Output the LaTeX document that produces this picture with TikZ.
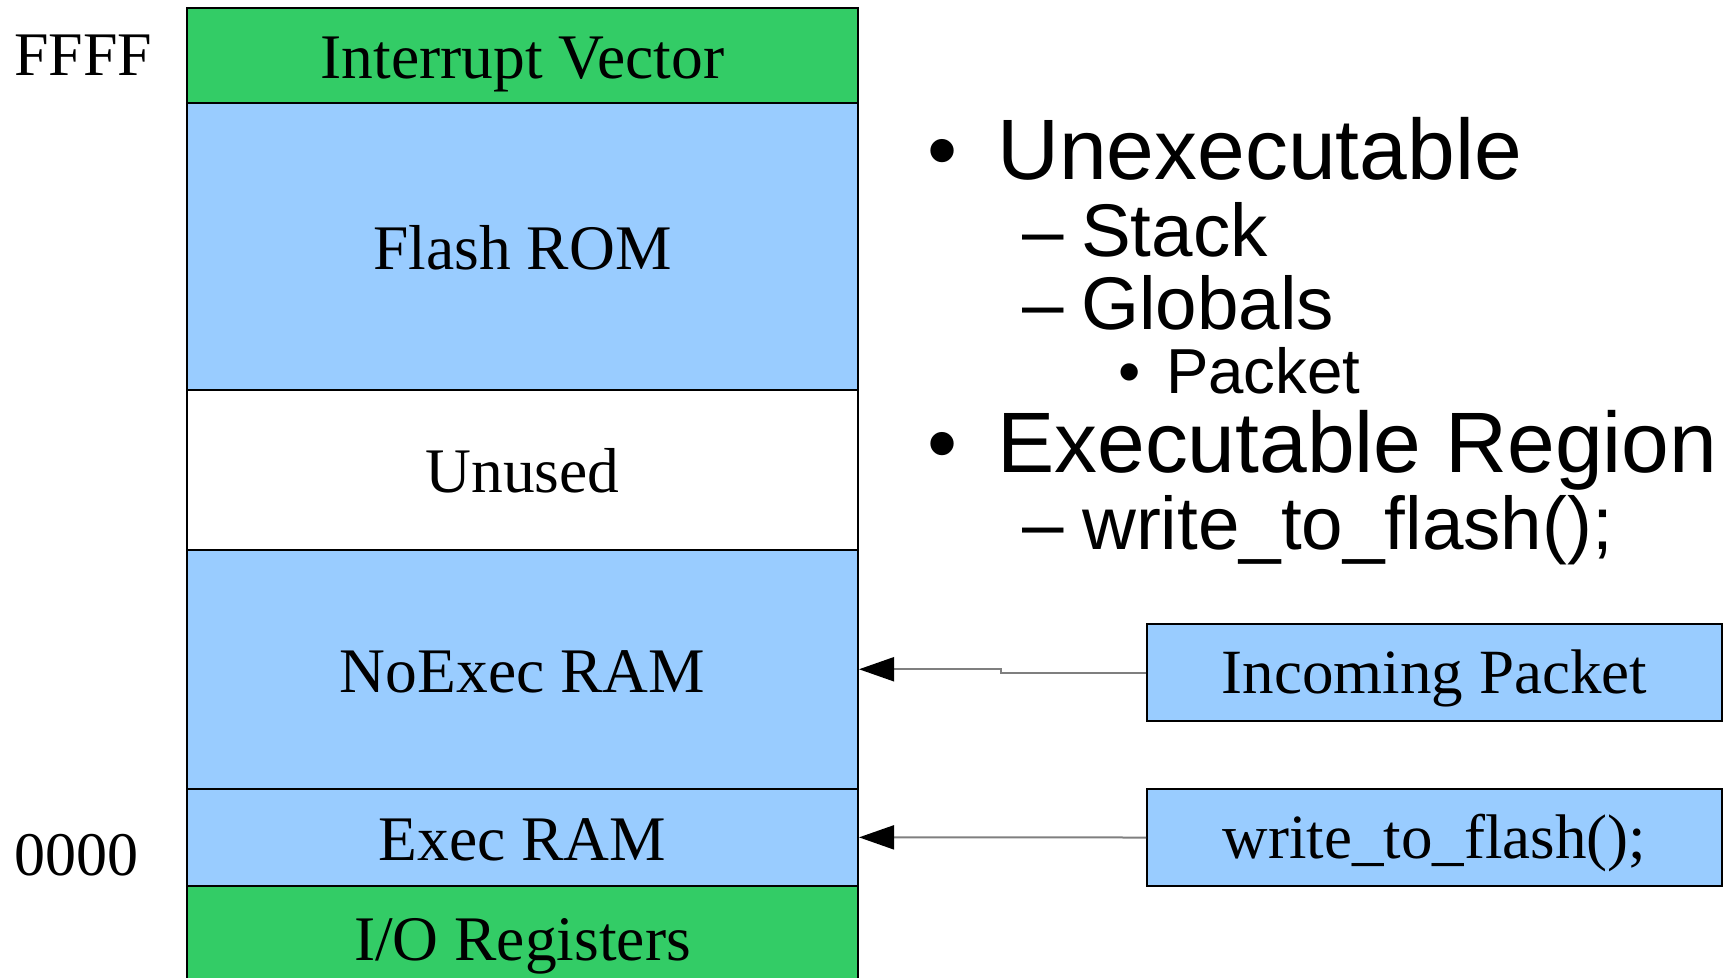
\documentclass[tikz,border=0pt]{standalone}
\usepackage{fontspec}
\setmainfont{Liberation Serif}
\newfontfamily\sansfam{Liberation Sans}
\usetikzlibrary{arrows.meta}
\definecolor{memgreen}{HTML}{33CC66}
\definecolor{memblue}{HTML}{99CCFF}
\definecolor{wiregray}{HTML}{7F7F7F}

\begin{document}
\begin{tikzpicture}[x=1pt,y=-1pt,
  region/.style={draw=black, line width=2pt, minimum width=671pt, inner sep=0pt,
    font=\fontsize{63.5}{63.5}\selectfont, text height=46pt, text depth=0pt},
  srcbox/.style={draw=black, line width=2pt, fill=memblue, minimum width=575pt,
    minimum height=97pt, inner sep=0pt,
    font=\fontsize{63}{63}\selectfont, text height=41pt, text depth=0pt},
  addr/.style={anchor=west, inner sep=0pt, font=\fontsize{62}{62}\selectfont,
    text height=41pt, text depth=0pt},
  conn/.style={draw=wiregray, line width=2pt, -{Triangle[length=35pt,width=24pt,color=black]}},
  lvlone/.style={anchor=base west, inner sep=0pt, font=\sansfam\fontsize{85.8}{85.8}\selectfont},
  lvltwo/.style={anchor=base west, inner sep=0pt, font=\sansfam\fontsize{74.6}{74.6}\selectfont},
  lvlthree/.style={anchor=base west, inner sep=0pt, font=\sansfam\fontsize{63.6}{63.6}\selectfont},
  dot/.style={anchor=base, inner sep=0pt},
]
\useasboundingbox (0,0) rectangle (1723,977);
\clip (0,0) rectangle (1723,977);

% memory map column
\node[region, fill=memgreen, minimum height=95.6pt] (iv)     at (522.5,55.5)   {Interrupt Vector};
\node[region, fill=memblue,  minimum height=286.7pt] (flash) at (522.5,246.7)  {Flash ROM};
\node[region, fill=white,    minimum height=159.5pt] (unused) at (522.5,469.75) {Unused};
\node[region, fill=memblue,  minimum height=239.5pt] (noexec) at (522.5,669.25) {NoExec RAM};
\node[region, fill=memblue,  minimum height=96.7pt]  (exec)  at (522.5,837.35) {Exec RAM};
\node[region, fill=memgreen, minimum height=104pt]   (io)    at (522.5,937.85) {I/O Registers};

% address labels
\node[addr] (top) at (14,55)  {FFFF};
\node[addr] (bot) at (14,855) {0000};

% sources
\node[srcbox] (pkt) at (1434.5,672.5) {Incoming Packet};
\node[srcbox] (wtf) at (1434.5,837.5) {write\_to\_flash();};

\draw[conn] (pkt.west) -- ++(-145,0) |- (noexec.east);
\draw[conn] (wtf.west) -- (exec.east);

% bullet list
\node[dot, font=\sansfam\fontsize{85.8}{85.8}\selectfont] (b1) at (943,179) {•};
\node[lvlone] (l1) at (997,179) {Unexecutable};
\node[lvltwo] (d1) at (1022,256) {–};
\node[lvltwo] (l2) at (1081,256) {Stack};
\node[lvltwo] (d2) at (1022,329.7) {–};
\node[lvltwo] (l3) at (1081,329.7) {Globals};
\node[dot, font=\sansfam\fontsize{63.6}{63.6}\selectfont] (b2) at (1130,393.4) {•};
\node[lvlthree] (l4) at (1166,393.4) {Packet};
\node[dot, font=\sansfam\fontsize{85.8}{85.8}\selectfont] (b3) at (943,472.5) {•};
\node[lvlone] (l5) at (997,472.5) {Executable Region};
\node[lvltwo] (d3) at (1022,549.5) {–};
\node[lvltwo] (l6) at (1082,549.5) {write\_to\_flash();};
\end{tikzpicture}
\end{document}
